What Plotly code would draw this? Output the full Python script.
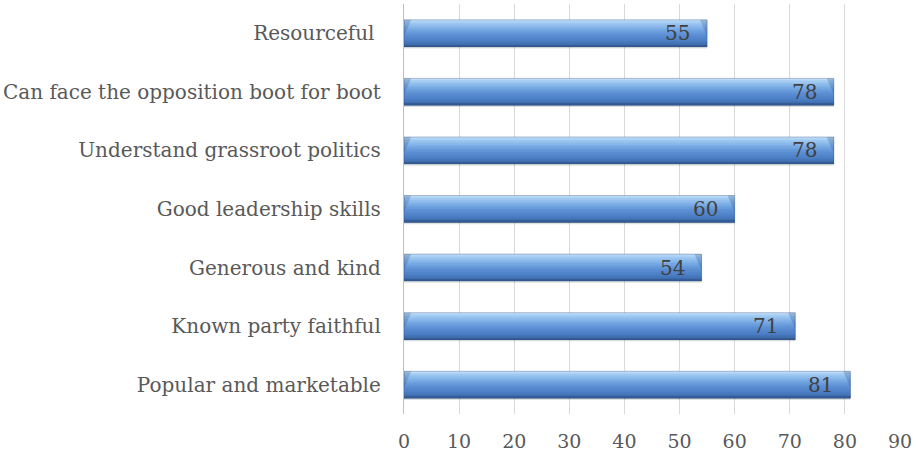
import plotly.graph_objects as go

categories = [
    "Resourceful ",
    "Can face the opposition boot for boot",
    "Understand grassroot politics",
    "Good leadership skills",
    "Generous and kind",
    "Known party faithful",
    "Popular and marketable",
]
values = [55, 78, 78, 60, 54, 71, 81]
x_ticks = [0, 10, 20, 30, 40, 50, 60, 70, 80, 90]

FONT = "DejaVu Serif"
TEXT = "#595959"

# vertical gradient of the bevelled bars, top -> bottom
GRADIENT = [
    (0.00, (200, 226, 250)),
    (0.10, (164, 204, 243)),
    (0.35, (120, 170, 228)),
    (0.55, (92, 144, 212)),
    (0.80, (74, 124, 194)),
    (0.93, (62, 106, 170)),
    (1.00, (45, 82, 138)),
]


def grad_color(t):
    for (t0, c0), (t1, c1) in zip(GRADIENT, GRADIENT[1:]):
        if t <= t1:
            f = (t - t0) / (t1 - t0) if t1 > t0 else 0
            r, g, b = (round(a + (b_ - a) * f) for a, b_ in zip(c0, c1))
            return f"rgb({r},{g},{b})"
    r, g, b = GRADIENT[-1][1]
    return f"rgb({r},{g},{b})"


BAR_W = 0.46
N_STRIPS = 18
strip_h = BAR_W / N_STRIPS
BEVEL = 1.3  # length of the end chamfer in data units

fig = go.Figure()

# soft shadow under each bar
fig.add_trace(go.Bar(
    y=categories, x=values, orientation="h",
    offset=BAR_W / 2 - 0.005, width=0.035,
    marker=dict(color="rgba(0,0,0,0.12)", line_width=0),
    hoverinfo="skip", showlegend=False,
))

# gradient strips; each one overlaps into the next so no seams show
for k in range(N_STRIPS):
    t = (k + 0.5) / N_STRIPS
    off = -BAR_W / 2 + k * strip_h
    w = strip_h * (2 if k < N_STRIPS - 1 else 1)
    fig.add_trace(go.Bar(
        y=categories, x=values, orientation="h",
        offset=off, width=w,
        marker=dict(color=grad_color(t), line_width=0),
        hoverinfo="skip", showlegend=False,
    ))

# chamfered ends: darker wedge that tapers towards the middle
for k in range(N_STRIPS):
    t = (k + 0.5) / N_STRIPS
    taper = max(0.0, 1 - t / 0.6)
    if taper <= 0:
        continue
    off = -BAR_W / 2 + k * strip_h
    seg = BEVEL * taper
    for base in ([v - seg for v in values], [0] * len(values)):
        fig.add_trace(go.Bar(
            y=categories, x=[seg] * len(values), base=base,
            orientation="h", offset=off, width=strip_h,
            marker=dict(color="rgba(25,55,105,0.22)", line_width=0),
            hoverinfo="skip", showlegend=False,
        ))

# thin outline
fig.add_trace(go.Bar(
    y=categories, x=values, orientation="h",
    offset=-BAR_W / 2, width=BAR_W,
    marker=dict(color="rgba(0,0,0,0)", line=dict(color="rgba(40,70,120,0.55)", width=0.6)),
    hoverinfo="skip", showlegend=False,
))

# value labels
for cat, v in zip(categories, values):
    fig.add_annotation(
        x=v, y=cat, text=str(v), showarrow=False,
        xanchor="right", xshift=-15,
        font=dict(family=FONT, size=20, color="#404040"),
    )

fig.update_layout(
    barmode="overlay",
    width=919, height=460,
    margin=dict(l=404, r=19, t=4, b=46),
    paper_bgcolor="white", plot_bgcolor="white",
    font=dict(family=FONT, color=TEXT),
    xaxis=dict(
        range=[0, 90], tickvals=x_ticks, ticktext=[str(t) for t in x_ticks],
        showgrid=True, gridcolor="#d9d9d9", gridwidth=1.3,
        zeroline=False, showline=False, automargin=False,
        tickfont=dict(family=FONT, size=19, color=TEXT),
        ticks="", ticklabelstandoff=14,
    ),
    yaxis=dict(
        categoryorder="array", categoryarray=categories, autorange="reversed",
        showgrid=False, zeroline=False, automargin=False,
        showline=True, linecolor="#bfbfbf", linewidth=1.3,
        tickfont=dict(family=FONT, size=20, color=TEXT),
        ticks="", ticklabelstandoff=18,
    ),
)

fig.write_html(
    "out.html",
    config={"displayModeBar": False},
    post_script="document.body.style.margin='0';",
)
